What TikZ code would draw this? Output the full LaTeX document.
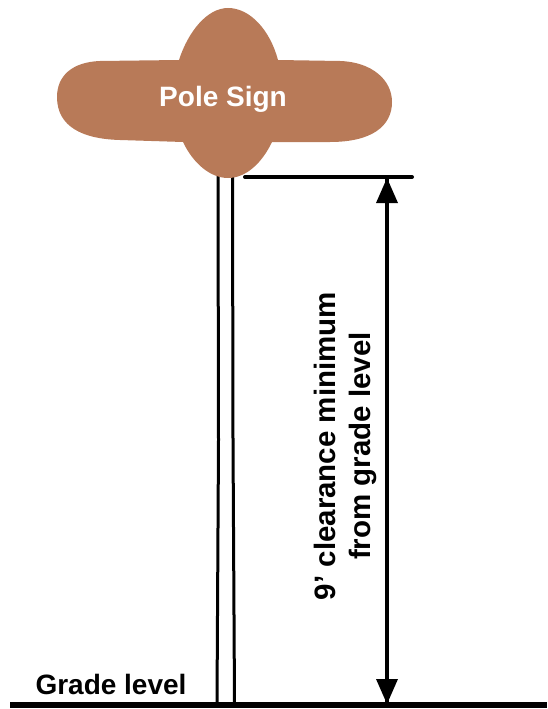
\documentclass[tikz,border=0pt]{standalone}
\usepackage{fontspec}
\setmainfont{Liberation Sans}
\definecolor{signbrown}{RGB}{184,122,88}
\tikzset{
  signfill/.style={fill=signbrown,draw=none},
  pole/.style={draw=black,line width=3pt},
  thick rule/.style={draw=black,line width=4pt,line cap=round},
  ground/.style={draw=black,line width=5.5pt},
  dim/.style={draw=black,line width=3.6pt},
  head/.style={fill=black,draw=none},
  lab/.style={text=black,inner sep=0pt}
}
\begin{document}
\begin{tikzpicture}[x=1pt,y=-1pt]
\useasboundingbox (0,0) rectangle (547,709);
% pole
\draw[pole] (218,176) -- (218.5,440) -- (217,703);
\draw[pole] (232.5,176) -- (233,440) -- (234.5,703);
% sign
\fill[signfill] (179,60)
  .. controls (188,32) and (207,8) .. (228,8)
  .. controls (250,8) and (270,30) .. (278,60)
  -- (340,61)
  .. controls (372,62) and (392,80) .. (392,102)
  .. controls (392,126) and (372,142) .. (330,142)
  -- (272,142)
  .. controls (262,163) and (246,178) .. (228,178)
  .. controls (210,178) and (193,163) .. (183,142)
  -- (120,140)
  .. controls (83,139) and (57,127) .. (57,97)
  .. controls (57,76) and (72,62) .. (100,61)
  -- cycle;
\node[lab,text=white,font=\bfseries\fontsize{28}{32}\selectfont] (title) at (223,99) {Pole Sign};
% ground and labels
\coordinate (gl) at (10,705);
\coordinate (gr) at (547,705);
\draw[ground] (gl) -- (gr);
\node[lab,font=\bfseries\fontsize{28}{32}\selectfont] (grade) at (111,684) {Grade level};
% clearance top rule
\coordinate (tl) at (245,177);
\coordinate (tr) at (412,177);
\draw[thick rule] (tl) -- (tr);
% dimension
\coordinate (at) at (387,178);
\coordinate (ab) at (387,704);
\draw[dim] (at) -- (ab);
\fill[head] (at) -- (398,203) -- (376,203) -- cycle;
\fill[head] (ab) -- (376,679) -- (398,679) -- cycle;
\node[lab,rotate=90,align=center,font=\bfseries\fontsize{29.5}{35}\selectfont] (clear) at (345,446) {9\symbol{39} clearance minimum\\from grade level};
\end{tikzpicture}
\end{document}
